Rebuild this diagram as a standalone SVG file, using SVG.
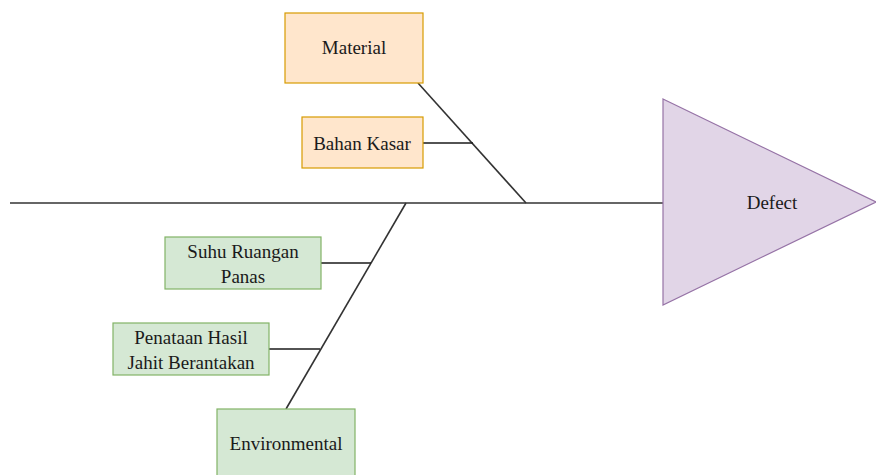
<svg xmlns="http://www.w3.org/2000/svg" width="876" height="475" viewBox="0 0 876 475">
  <style>
    .lbl { font-family: 'Liberation Serif', 'DejaVu Serif', serif; font-size: 19px; fill: #1a1a1a; text-anchor: middle; dominant-baseline: central; }
    .orange { fill: #ffe6cc; stroke: #d79b00; stroke-width: 1.2; }
    .green { fill: #d5e8d4; stroke: #82b366; stroke-width: 1.2; }
    .purple { fill: #e1d5e7; stroke: #9673a6; stroke-width: 1.2; }
    .bone { stroke: #333333; stroke-width: 1.6; fill: none; }
    .rib { stroke: #1a1a1a; stroke-width: 1.3; fill: none; }
  </style>
  <rect width="876" height="475" fill="#ffffff"/>

  <!-- spine, two bones and their ribs -->
  <g id="connectors">
    <line class="bone" x1="10" y1="203" x2="663" y2="203"/>
    <line class="bone" x1="418" y1="83" x2="526" y2="203"/>
    <line class="bone" x1="406" y1="203" x2="286" y2="409"/>
    <line class="rib" x1="423" y1="143" x2="473" y2="143"/>
    <line class="rib" x1="321" y1="263" x2="371" y2="263"/>
    <line class="rib" x1="269" y1="349" x2="320" y2="349"/>
  </g>

  <g id="defect">
    <polygon class="purple" points="663,99 876,202 663,305"/>
    <text class="lbl" x="772" y="202">Defect</text>
  </g>

  <g id="material">
    <rect class="orange" x="285" y="13" width="138" height="70"/>
    <text class="lbl" x="354" y="47">Material</text>
  </g>

  <g id="bahan-kasar">
    <rect class="orange" x="302" y="117" width="121" height="51"/>
    <text class="lbl" x="362" y="143">Bahan Kasar</text>
  </g>

  <g id="suhu-ruangan">
    <rect class="green" x="165" y="237" width="156" height="52"/>
    <text class="lbl" x="243" y="251">Suhu Ruangan</text>
    <text class="lbl" x="243" y="276">Panas</text>
  </g>

  <g id="penataan">
    <rect class="green" x="113" y="323" width="156" height="52"/>
    <text class="lbl" x="191" y="337">Penataan Hasil</text>
    <text class="lbl" x="191" y="362">Jahit Berantakan</text>
  </g>

  <g id="environmental">
    <rect class="green" x="217" y="409" width="138" height="70"/>
    <text class="lbl" x="286" y="443">Environmental</text>
  </g>
</svg>
